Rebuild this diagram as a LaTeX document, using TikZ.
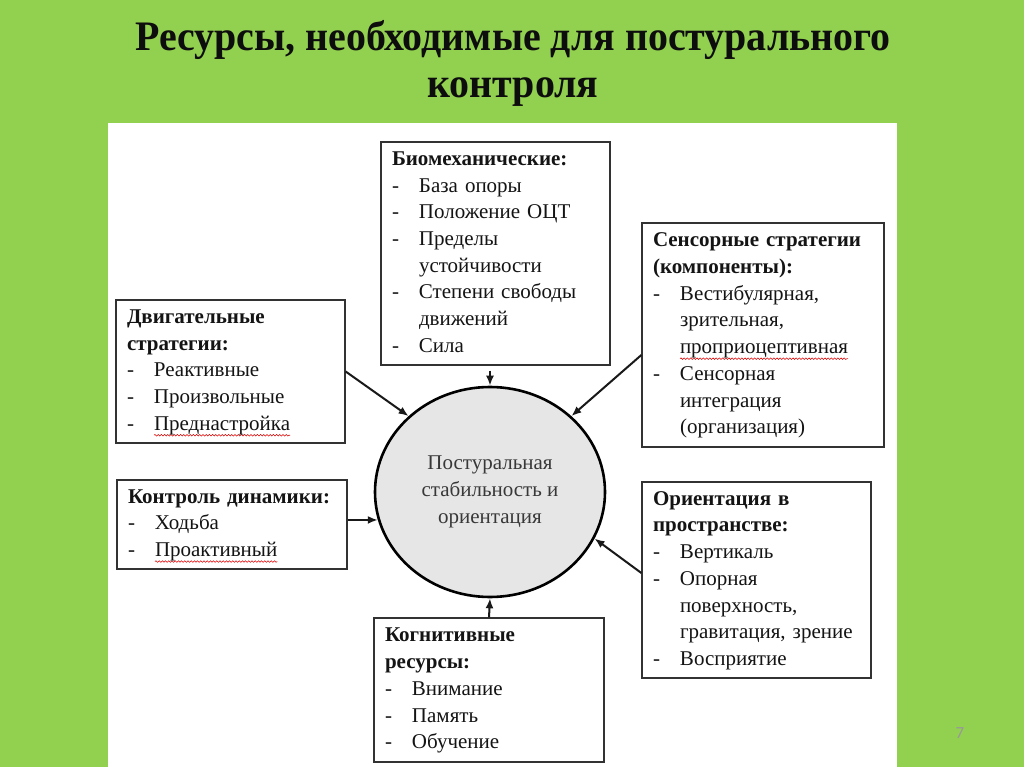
\documentclass[tikz,border=0pt]{standalone}
\usepackage{fontspec}
\setmainfont{Liberation Serif}
\newfontfamily\titlefont[FakeStretch=0.95]{Liberation Serif}
\newfontfamily\numfont{Carlito}
\usetikzlibrary{arrows.meta,shapes.geometric,positioning,decorations.pathmorphing}

\definecolor{slidegreen}{RGB}{146,208,80}
\definecolor{boxline}{RGB}{50,50,50}
\definecolor{discfill}{RGB}{230,230,230}

\newlength\spellwd
\newcommand\spell[1]{\settowidth\spellwd{#1}\tikz[overlay,baseline=0pt]
  \draw[red!85!black, line width=0.55pt, decorate,
    decoration={snake, amplitude=0.8pt, segment length=3.2pt}] (0pt,-5pt) -- (\spellwd,-5pt);#1}
\newcommand\hd[1]{\strut\textbf{#1}}
\newcommand\itm[1]{\strut\makebox[27pt][l]{-}#1}
\newcommand\cnt[1]{\strut\hspace*{27pt}#1}

\tikzset{
  res/.style={draw=boxline, line width=1.3pt, fill=white, align=left,
    inner xsep=11pt, inner ysep=0pt, text=black!92,
    font=\fontsize{21}{26.7}\selectfont},
  feed/.style={-{Latex[length=10pt,width=8pt]}, line width=2pt, draw=black!90}
}

\begin{document}
\begin{tikzpicture}[x=1pt,y=-1pt]

   \useasboundingbox (0,0) rectangle (1024,767);
   \fill [slidegreen] (0,0) rectangle (1024,767);
   \fill [white] (108,123) rectangle (897,767);

   \node[font=\titlefont\bfseries\fontsize{42}{47}\selectfont, align=center,
     text=black!95, inner sep=0pt] (title) at (513,63.5)
     {Ресурсы, необходимые для постурального\\контроля};
   \node[font=\numfont\fontsize{17}{17}\selectfont, text=gray!80] (pnum) at (960,733) {7};

   \node[ellipse, draw=black, line width=2.6pt, fill=discfill, minimum width=230pt,
     minimum height=210pt, inner sep=0pt, align=center, text=black!78,
     font=\fontsize{21}{26.7}\selectfont] (core) at (490,492)
     {Постуральная\\стабильность и\\ориентация};

   \node[res, text width=207pt, minimum height=223pt] (bio) at (495.5,253.5)
     {\hd{Биомеханические:}\\ \itm{База опоры}\\ \itm{Положение ОЦТ}\\
      \itm{Пределы}\\ \cnt{устойчивости}\\ \itm{Степени свободы}\\
      \cnt{движений}\\ \itm{Сила}};

   \node[res, text width=207pt, minimum height=143pt] (mot) at (230.5,371.5)
     {\hd{Двигательные}\\ \hd{стратегии:}\\ \itm{Реактивные}\\
      \itm{Произвольные}\\ \itm{\spell{Преднастройка}}};

   \node[res, text width=208pt, minimum height=89pt] (dyn) at (232,524.5)
     {\hd{Контроль динамики:}\\ \itm{Ходьба}\\ \itm{\spell{Проактивный}}};

   \node[res, text width=220pt, minimum height=224pt] (sen) at (763,335)
     {\hd{Сенсорные стратегии}\\ \hd{(компоненты):}\\ \itm{Вестибулярная,}\\
      \cnt{зрительная,}\\ \cnt{\spell{проприоцептивная}}\\ \itm{Сенсорная}\\
      \cnt{интеграция}\\ \cnt{(организация)}};

   \node[res, text width=207pt, minimum height=196pt] (ori) at (756.5,580)
     {\hd{Ориентация в}\\ \hd{пространстве:}\\ \itm{Вертикаль}\\
      \itm{Опорная}\\ \cnt{поверхность,}\\ \cnt{гравитация, зрение}\\
      \itm{Восприятие}};

   \node[res, text width=208pt, minimum height=144pt] (cog) at (489,690)
     {\hd{Когнитивные}\\ \hd{ресурсы:}\\ \itm{Внимание}\\ \itm{Память}\\
      \itm{Обучение}};

   \draw[feed] (mot.east) -- (core.137);
   \draw[feed] ([yshift=-5pt]bio.south -| core.north) -- (core.north);
   \draw[feed] ([yshift=-20pt]sen.west) -- (core.43);
   \draw[feed] (dyn.east |- core.194) -- (core.194);
   \draw[feed] ([yshift=7pt]ori.west) -- (core.-24);
   \draw[feed] (cog.north) -- (core.south);

\end{tikzpicture}
\end{document}
